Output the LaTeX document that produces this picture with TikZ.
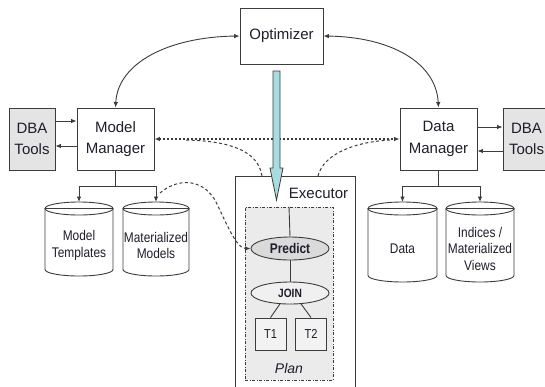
\documentclass[tikz,border=0pt]{standalone}
\usepackage{fontspec}
\setmainfont{Liberation Sans}
\newfontfamily\narrowfont[FakeStretch=0.85]{Liberation Sans}
\usetikzlibrary{arrows.meta,shapes.geometric,calc}
\definecolor{txt}{HTML}{1E1E2C}
\definecolor{ln}{HTML}{3C3C3C}
\definecolor{dbagray}{HTML}{E4E4E4}
\definecolor{plangray}{HTML}{EBEBEB}
\definecolor{predgray}{HTML}{DADADA}
\definecolor{arrowcyan}{HTML}{A8DCE0}
\tikzset{
  tip/.style={-{Latex[length=5.5pt,width=4.5pt]}},
  dtip/.style={{Latex[length=5.5pt,width=4.5pt]}-{Latex[length=5.5pt,width=4.5pt]}},
  box/.style={draw=ln, line width=0.9pt, fill=white, text=txt, font=\fontsize{15}{21.5}\selectfont, align=center, inner sep=0pt},
  dbabox/.style={box, fill=dbagray},
  cyltext/.style={text=txt, font=\narrowfont\fontsize{14}{16.5}\selectfont, align=center, inner sep=0pt},
  cylbody/.style={draw=ln, line width=0.9pt, fill=white},
  conn/.style={draw=ln, line width=0.9pt},
  dotline/.style={draw=ln, line width=1.1pt, dash pattern=on 2pt off 2pt},
  dashline/.style={draw=ln, line width=1pt, dash pattern=on 3pt off 2.5pt},
  planop/.style={ellipse, draw=ln, line width=0.9pt, text=txt, inner sep=0pt, minimum width=78pt},
  tbox/.style={draw=ln, line width=0.9pt, fill=white!95!black, text=txt, font=\narrowfont\fontsize{13}{15}\selectfont, minimum width=31pt, minimum height=32pt, inner sep=0pt}
}
\newcommand\dbcyl[6]{% name, cx, top, bottom, rx, text
  \path[cylbody] (#2-#5,#3+6.5) -- (#2-#5,#4-6.5)
     arc[start angle=180, end angle=360, x radius=#5pt, y radius=6.5pt]
     -- (#2+#5,#3+6.5) -- cycle;
  \draw[ln, line width=0.9pt] (#2,#3+6.5) ellipse [x radius=#5pt, y radius=6.5pt];
  \coordinate (#1) at (#2,#3);
  \node[cyltext] (#1-t) at (#2,{(#3+13+#4)/2}) {#6};
}
\begin{document}
\begin{tikzpicture}[x=1pt,y=-1pt]
\useasboundingbox[fill=white] (0,0) rectangle (545,386);

% main boxes
\node[box, minimum width=83pt, minimum height=56pt] (opt) at (281.5,36) {Optimizer};
\node[box, minimum width=77pt, minimum height=62pt] (mm) at (115.5,139) {Model\\Manager};
\node[box, minimum width=77pt, minimum height=62pt] (dm) at (438.5,139) {Data\\Manager};
\node[dbabox, minimum width=46pt, minimum height=62pt] (dbal) at (32,139) {DBA\\Tools};
\node[dbabox, minimum width=47pt, minimum height=62pt] (dbar) at (526.5,139) {DBA\\Tools};

% DBA arrows
\draw[conn, tip] ([yshift=18pt]dbal.east) -- ([yshift=18pt]mm.west);
\draw[conn, tip] ([yshift=-7pt]mm.west) -- ([yshift=-7pt]dbal.east);
\draw[conn, tip] ([yshift=12pt]dm.east) -- ([yshift=12pt]dbar.west);
\draw[conn, tip] ([yshift=-12pt]dbar.west) -- ([yshift=-12pt]dm.east);

% optimizer curves
\draw[conn, dtip] (mm.north) .. controls (118,62) and (170,37) .. (opt.west);
\draw[conn, dtip] (dm.north) .. controls (436,62) and (390,37) .. (opt.east);

% cylinders
\dbcyl{mt}{79}{202}{276}{34}{Model\\Templates}
\dbcyl{mat}{156}{202}{276}{33}{Materialized\\Models}
\dbcyl{data}{402.5}{202}{282}{34.5}{Data}
\dbcyl{idx}{480}{202}{282}{34}{Indices /\\Materialized\\Views}

% manager to storage
\coordinate (mmj) at (115.5,186);
\coordinate (dmj) at (438.5,186);
\draw[conn] (mm.south) -- (mmj);
\draw[conn, tip] (mmj) -| (mt);
\draw[conn, tip] (mmj) -| (mat);
\draw[conn] (dm.south) -- (dmj);
\draw[conn, tip] (dmj) -| (data);
\draw[conn, tip] (dmj) -| (idx);

% executor
\node[draw=ln, line width=0.9pt, fill=white, minimum width=120pt, minimum height=230pt, inner sep=0pt, anchor=north] (exec) at (295,176) {};
\node[text=txt, font=\fontsize{15}{18}\selectfont, inner sep=0pt] (execl) at (318.5,193) {Executor};
\node[draw=ln, line width=0.8pt, fill=plangray, dash pattern=on 3pt off 1.5pt on 1pt off 1.5pt, minimum width=88pt, minimum height=173pt, inner sep=0pt] (plan) at (289,293.5) {};
\node[planop, fill=predgray, minimum height=23pt, font=\narrowfont\bfseries\fontsize{14}{16}\selectfont] (pred) at (290,248.5) {Predict};
\node[planop, fill=white!94!black, minimum height=22pt, font=\narrowfont\bfseries\fontsize{12}{14}\selectfont] (join) at (290,293) {JOIN};
\node[tbox] (t1) at (270.5,334) {T1};
\node[tbox] (t2) at (311,334) {T2};
\node[text=txt, font=\itshape\fontsize{14}{16}\selectfont, inner sep=0pt] (planl) at (289,368) {Plan};
\draw[conn] (plan.north) -- (pred.north);
\draw[conn] (pred.south) -- (join.north);
\draw[conn] ([xshift=-10pt,yshift=0.6pt]join.south) -- (t1.north);
\draw[conn] ([xshift=11pt,yshift=0.6pt]join.south) -- (t2.north);

% dotted / dashed connectors
\draw[dotline, dtip] (mm.east) -- (dm.west);
\coordinate (exl) at (262,176);
\coordinate (exr) at (318,176);
\coordinate (jl) at (186,140);
\coordinate (jr) at (392,140);
\draw[dashline] (exl) .. controls (258,150) and (228,141) .. (jl);
\draw[dashline] (exr) .. controls (324,152) and (360,141) .. (jr);
\coordinate (mats) at (160,193);
\coordinate (mid) at (215,200);
\draw[dashline, tip] (mats) .. controls (176,179) and (201,177) .. (mid) .. controls (225,220) and (236,248.5) .. (pred.west);

% thick arrow optimizer -> executor
\coordinate (ta) at (276.5,71);
\draw[draw=ln, line width=0.8pt, fill=arrowcyan, line join=miter]
  ($(ta)+(-3.5,0)$) -- ($(ta)+(3.5,0)$) -- ($(ta)+(3.5,97)$) -- ($(ta)+(6.5,97)$)
  -- ($(ta)+(0,129)$) -- ($(ta)+(-6.5,97)$) -- ($(ta)+(-3.5,97)$) -- cycle;
\end{tikzpicture}
\end{document}
